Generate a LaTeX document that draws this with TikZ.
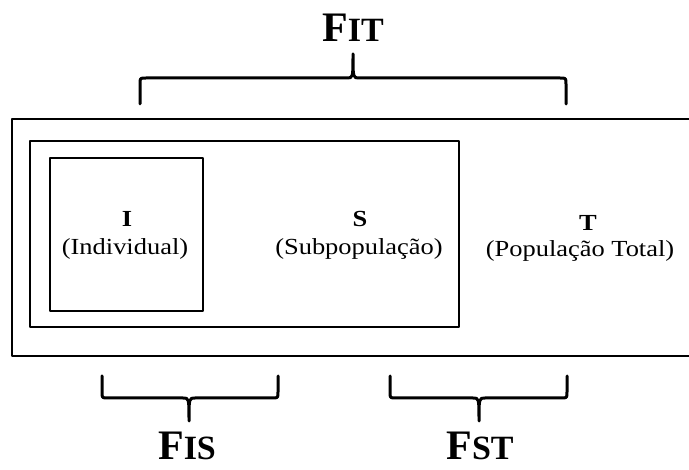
\documentclass[tikz,border=0pt]{standalone}
\usepackage{fontspec}
\setmainfont[FakeStretch=1.15]{Liberation Serif}
\newfontfamily\headfont{Liberation Serif}
\begin{document}
\begin{tikzpicture}[x=1pt,y=-1pt,line join=round,
  box/.style={line width=2pt},
  brace/.style={line width=3pt,line cap=round},
  lbl/.style={anchor=base,inner sep=0pt,font=\fontsize{23}{27}\selectfont},
  tag/.style={lbl,font=\fontsize{23}{27}\selectfont\bfseries},
  head/.style={anchor=base,inner sep=0pt,font=\headfont\bfseries\fontsize{42}{46}\selectfont}]
 \useasboundingbox (0,0) rectangle (689,470);
 \clip (0,0) rectangle (689,470);
 % caixas
 \draw[box] (12,119) rectangle (720,356);
 \draw[box] (30,141) rectangle (459,327);
 \draw[box] (50,158) rectangle (203,311);
 % textos
 \node[tag] (tagI) at (127,227) {I};
 \node[lbl] (nameI) at (125,255) {(Individual)};
 \node[tag] (tagS) at (360,227) {S};
 \node[lbl] (nameS) at (359,255) {(Subpopulação)};
 \node[tag] (tagT) at (588,231) {T};
 \node[lbl] (nameT) at (580,257) {(População Total)};
 % chaves
 \draw[brace] (140,104) -- (140,84) .. controls (140,78) .. (146,78) -- (347,78)
   .. controls (353,78) .. (353,54) .. controls (353,78) .. (359,78) -- (560,78)
   .. controls (566,78) .. (566,84) -- (566,104);
 \foreach \l/\t/\r in {102/189/278,390/479/567}
   \draw[brace] (\l,376) -- (\l,392) .. controls (\l,398) .. (\l+6,398) -- (\t-6,398)
     .. controls (\t,398) .. (\t,421) .. controls (\t,398) .. (\t+6,398) -- (\r-6,398)
     .. controls (\r,398) .. (\r,392) -- (\r,376);
 \node[head] (fit) at (353,42) {F\fontsize{34}{38}\selectfont IT};
 \node[head] (fis) at (187,460) {F\fontsize{34}{38}\selectfont IS};
 \node[head] (fst) at (480,460) {F\fontsize{34}{38}\selectfont ST};
\end{tikzpicture}
\end{document}
